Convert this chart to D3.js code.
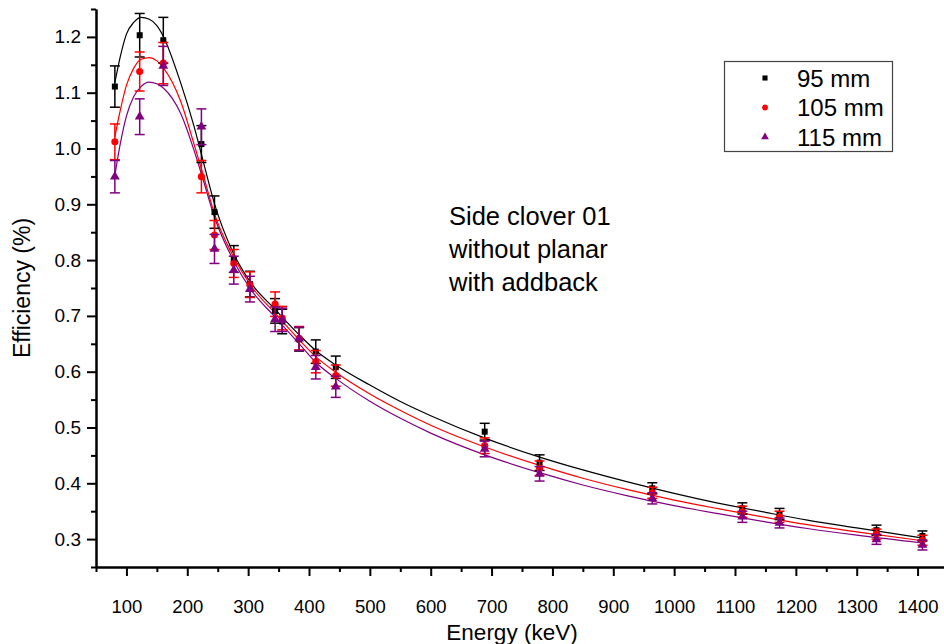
<!DOCTYPE html>
<html>
<head>
<meta charset="utf-8">
<script src="https://cdn.jsdelivr.net/npm/d3@7"></script>
<style>
  html, body { margin: 0; padding: 0; background: #fff; }
  svg { display: block; }
  text { font-family: "Liberation Sans", Arial, sans-serif; fill: #000; }
</style>
</head>
<body>
<svg id="chart" width="944" height="644"></svg>
<script>
// Gamma-ray energies of the calibration lines (keV)
const energies = [81.0, 121.8, 160.6, 223.2, 244.7, 276.4, 302.9, 344.3, 356.0, 383.8,
                  411.1, 444.0, 688.7, 778.9, 964.1, 1112.1, 1173.2, 1332.5, 1408.0];

// Measured efficiency (%) and uncertainty for each source distance
const eff95  = [1.111, 1.203, 1.194, 1.008, 0.886, 0.802, 0.757, 0.709, 0.690, 0.658,
                0.636, 0.608, 0.4925, 0.437, 0.391, 0.355, 0.345, 0.316, 0.3056];
const err95  = [0.037, 0.039, 0.041, 0.033, 0.029, 0.024, 0.023, 0.022, 0.022, 0.021,
                0.021, 0.020, 0.015, 0.014, 0.010, 0.010, 0.010, 0.009, 0.009];

const eff105 = [1.012, 1.138, 1.153, 0.9495, 0.845, 0.794, 0.756, 0.721, 0.696, 0.660,
                0.618, 0.593, 0.4674, 0.427, 0.383, 0.349, 0.340, 0.309, 0.298];
const err105 = [0.032, 0.035, 0.037, 0.029, 0.026, 0.025, 0.023, 0.022, 0.021, 0.021,
                0.020, 0.019, 0.014, 0.013, 0.010, 0.010, 0.010, 0.009, 0.009];

const eff115 = [0.9495, 1.057, 1.148, 1.039, 0.820, 0.782, 0.748, 0.694, 0.693, 0.659,
                0.608, 0.573, 0.4615, 0.417, 0.373, 0.340, 0.329, 0.2996, 0.2895];
const err115 = [0.029, 0.032, 0.035, 0.032, 0.026, 0.025, 0.023, 0.022, 0.021, 0.021,
                0.021, 0.019, 0.014, 0.013, 0.010, 0.010, 0.009, 0.009, 0.009];

// Fitted efficiency curves, sampled at these energies
const fitEnergies = [81, 90, 100, 112, 124, 137, 150, 161, 189, 211, 225, 245, 276, 304,
                     345, 384, 411, 444, 500, 551, 600, 689, 779, 850, 922, 1000, 1070,
                     1150, 1219, 1300, 1408];
const fit95  = [1.118, 1.165, 1.205, 1.226, 1.235, 1.232, 1.220, 1.200, 1.118, 1.040,
                0.982, 0.900, 0.812, 0.760, 0.711, 0.666, 0.638, 0.612, 0.576, 0.546,
                0.521, 0.481, 0.447, 0.424, 0.403, 0.382, 0.365, 0.348, 0.334, 0.320,
                0.302];
const fit105 = [1.021, 1.069, 1.113, 1.144, 1.160, 1.163, 1.157, 1.144, 1.085, 1.008,
                0.957, 0.882, 0.806, 0.755, 0.704, 0.657, 0.627, 0.599, 0.560, 0.530,
                0.504, 0.465, 0.432, 0.409, 0.389, 0.370, 0.355, 0.339, 0.326, 0.313,
                0.297];
const fit115 = [0.952, 1.009, 1.058, 1.093, 1.111, 1.119, 1.116, 1.108, 1.063, 0.997,
                0.948, 0.876, 0.799, 0.748, 0.697, 0.650, 0.617, 0.588, 0.547, 0.516,
                0.490, 0.451, 0.419, 0.397, 0.378, 0.360, 0.346, 0.331, 0.319, 0.307,
                0.293];

const seriesNames = ["95 mm", "105 mm", "115 mm"];
const seriesColors = ["#000000", "#ff0000", "#800080"];
const seriesSymbols = [d3.symbolSquare, d3.symbolCircle, d3.symbolTriangle];

const xTickValues = [100, 200, 300, 400, 500, 600, 700, 800, 900, 1000, 1100, 1200, 1300, 1400];
const yTickValues = [0.3, 0.4, 0.5, 0.6, 0.7, 0.8, 0.9, 1.0, 1.1, 1.2];

const annotationLines = ["Side clover 01", "without planar", "with addback"];

// ---- layout ----
const svg = d3.select("#chart");
const x = d3.scaleLinear().domain([50, 1450]).range([96, 948]);
const y = d3.scaleLinear().domain([0.25, 1.25]).range([567, 9]);

const series = [
  { eff: eff95,  err: err95,  fit: fit95 },
  { eff: eff105, err: err105, fit: fit105 },
  { eff: eff115, err: err115, fit: fit115 }
];

// ---- axes ----
const xMinor = d3.range(50, 1451, 50).filter(v => !xTickValues.includes(v));
const yMinor = d3.range(0.25, 1.2501, 0.1).map(v => +v.toFixed(2));

function styleAxis(g) {
  g.selectAll(".domain").attr("stroke", "#000").attr("stroke-width", 2);
  g.selectAll(".tick line").attr("stroke", "#000").attr("stroke-width", 2);
}

svg.append("g")
  .attr("transform", "translate(0,567)")
  .call(d3.axisBottom(x).tickValues(xMinor).tickSize(5).tickSizeOuter(0).tickFormat(""))
  .call(styleAxis);
const gx = svg.append("g")
  .attr("transform", "translate(0,567)")
  .call(d3.axisBottom(x).tickValues(xTickValues).tickSize(9).tickSizeOuter(0).tickPadding(24)
        .tickFormat(d3.format("d")))
  .call(styleAxis);
gx.selectAll(".tick text")
  .attr("font-size", 18.5).attr("font-family", "Liberation Sans, Arial, sans-serif").attr("fill", "#000");

svg.append("g")
  .attr("transform", "translate(96,0)")
  .call(d3.axisLeft(y).tickValues(yMinor).tickSize(5).tickSizeOuter(0).tickFormat(""))
  .call(styleAxis);
const gy = svg.append("g")
  .attr("transform", "translate(96,0)")
  .call(d3.axisLeft(y).tickValues(yTickValues).tickSize(9).tickSizeOuter(0).tickPadding(6)
        .tickFormat(d3.format(".1f")))
  .call(styleAxis);
gy.selectAll(".tick text")
  .attr("font-size", 19).attr("font-family", "Liberation Sans, Arial, sans-serif").attr("fill", "#000");

// axis titles
svg.append("text")
  .attr("x", 512).attr("y", 640)
  .attr("text-anchor", "middle").attr("font-size", 22.5)
  .text("Energy (keV)");
svg.append("text")
  .attr("transform", "translate(30,288) rotate(-90)")
  .attr("text-anchor", "middle").attr("font-size", 23)
  .text("Efficiency (%)");

// ---- fitted curves ----
const line = d3.line()
  .x(d => x(d[0])).y(d => y(d[1]))
  .curve(d3.curveMonotoneX);

series.forEach((s, i) => {
  svg.append("path")
    .datum(fitEnergies.map((e, k) => [e, s.fit[k]]))
    .attr("d", line)
    .attr("fill", "none")
    .attr("stroke", seriesColors[i])
    .attr("stroke-width", 1.2);
});

// ---- error bars and markers ----
const capHalf = 5;
series.forEach((s, i) => {
  const col = seriesColors[i];
  const pts = energies.map((e, k) => ({ e, v: s.eff[k], er: s.err[k] }));
  const g = svg.append("g");
  const eb = g.selectAll(".eb").data(pts).enter().append("g");
  eb.append("line")
    .attr("x1", d => x(d.e)).attr("x2", d => x(d.e))
    .attr("y1", d => y(d.v + d.er)).attr("y2", d => y(d.v - d.er))
    .attr("stroke", col).attr("stroke-width", 1.5);
  eb.append("line")
    .attr("x1", d => x(d.e) - capHalf).attr("x2", d => x(d.e) + capHalf)
    .attr("y1", d => y(d.v + d.er)).attr("y2", d => y(d.v + d.er))
    .attr("stroke", col).attr("stroke-width", 1.5);
  eb.append("line")
    .attr("x1", d => x(d.e) - capHalf).attr("x2", d => x(d.e) + capHalf)
    .attr("y1", d => y(d.v - d.er)).attr("y2", d => y(d.v - d.er))
    .attr("stroke", col).attr("stroke-width", 1.5);

  const symSize = [36, 40, 42][i];
  g.selectAll(".pt").data(pts).enter().append("path")
    .attr("transform", d => `translate(${x(d.e)},${y(d.v)})`)
    .attr("d", d3.symbol().type(seriesSymbols[i]).size(symSize))
    .attr("fill", col);
});

// ---- legend ----
const legend = svg.append("g");
legend.append("rect")
  .attr("x", 724.5).attr("y", 61.5).attr("width", 168).attr("height", 90)
  .attr("fill", "#fff").attr("stroke", "#444").attr("stroke-width", 1.2);
seriesNames.forEach((name, i) => {
  const cy = 78 + i * 29.5;
  legend.append("path")
    .attr("transform", `translate(765,${cy})`)
    .attr("d", d3.symbol().type(seriesSymbols[i]).size(26))
    .attr("fill", seriesColors[i]);
  legend.append("text")
    .attr("x", 797).attr("y", cy + 8.5)
    .attr("font-size", 24)
    .text(name);
});

// ---- annotation ----
svg.append("g").selectAll("text").data(annotationLines).enter().append("text")
  .attr("x", 449).attr("y", (d, i) => 225 + i * 33)
  .attr("font-size", 25.5)
  .text(d => d);
</script>
</body>
</html>
